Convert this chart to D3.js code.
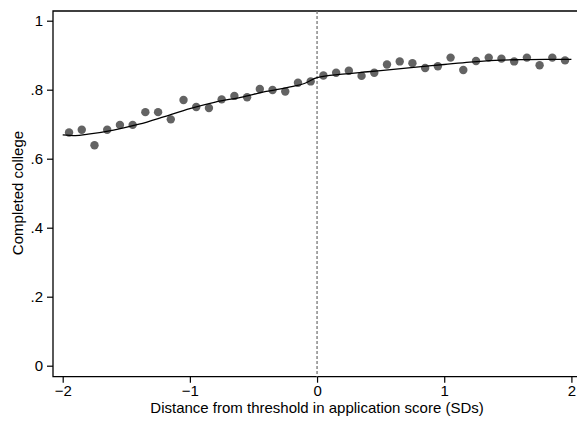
<!DOCTYPE html>
<html>
<head>
<meta charset="utf-8">
<script src="https://cdn.jsdelivr.net/npm/d3@7"></script>
<style>
  body { margin: 0; background: #fff; overflow: hidden; }
  text { font-family: "Liberation Sans", Arial, sans-serif; }
</style>
</head>
<body>
<div id="vis-container"></div>
<script>
// binned means (x = bin centre, y = share completed college)
const binX = [-1.95, -1.85, -1.75, -1.65, -1.55, -1.45, -1.35, -1.25, -1.15, -1.05,
              -0.95, -0.85, -0.75, -0.65, -0.55, -0.45, -0.35, -0.25, -0.15, -0.05,
               0.05,  0.15,  0.25,  0.35,  0.45,  0.55,  0.65,  0.75,  0.85,  0.95,
               1.05,  1.15,  1.25,  1.35,  1.45,  1.55,  1.65,  1.75,  1.85,  1.95];
const binY = [0.676, 0.684, 0.639, 0.684, 0.698, 0.698, 0.735, 0.735, 0.714, 0.770,
              0.750, 0.747, 0.772, 0.782, 0.778, 0.802, 0.799, 0.795, 0.820, 0.824,
              0.841, 0.849, 0.855, 0.840, 0.849, 0.873, 0.882, 0.877, 0.863, 0.868,
              0.893, 0.857, 0.883, 0.893, 0.890, 0.882, 0.893, 0.871, 0.893, 0.885];

// fitted curve
const fitX = [-2.0, -1.9, -1.8, -1.6, -1.4, -1.2, -1.0, -0.8, -0.6, -0.4, -0.2, -0.1, 0.0,
               0.2, 0.4, 0.6, 0.8, 1.0, 1.2, 1.4, 1.6, 1.8, 2.0];
const fitY = [0.669, 0.667, 0.671, 0.683, 0.700, 0.722, 0.745, 0.764, 0.778, 0.795, 0.809, 0.818, 0.835,
              0.845, 0.852, 0.859, 0.866, 0.873, 0.880, 0.885, 0.887, 0.888, 0.888];

const xTicks = [-2, -1, 0, 1, 2];
const yTicks = [0, 0.2, 0.4, 0.6, 0.8, 1];
const yTickLabels = ["0", ".2", ".4", ".6", ".8", "1"];

const w = 577, h = 421;
const padLeft = 53, padTop = 11, axisY = 376.7;

const xScale = d3.scaleLinear().domain([-2, 2]).range([62.7, 571.4]);
const yScale = d3.scaleLinear().domain([0, 1]).range([365.7, 20.7]);

const svg = d3.select("#vis-container").append("svg")
    .attr("width", w).attr("height", h)
    .style("display", "block");

// frame: left, bottom, top
svg.append("path")
    .attr("d", `M${w},${padTop}H${padLeft}V${axisY}H${w}`)
    .attr("fill", "none").attr("stroke", "#000").attr("stroke-width", 1.3);

// y axis
const yAxis = d3.axisLeft(yScale).tickValues(yTicks)
    .tickFormat((d, i) => yTickLabels[i]).tickSize(6).tickPadding(4);
svg.append("g").attr("transform", `translate(${padLeft},0)`).call(yAxis)
    .call(g => g.select(".domain").remove())
    .call(g => g.selectAll("line").attr("stroke", "#000").attr("stroke-width", 1.2))
    .call(g => g.selectAll("text").attr("font-size", 15).attr("fill", "#000")
        .attr("font-family", "Liberation Sans, Arial, sans-serif"));

// x axis
const xAxis = d3.axisBottom(xScale).tickValues(xTicks)
    .tickFormat(d3.format("d")).tickSize(6).tickPadding(3);
svg.append("g").attr("transform", `translate(0,${axisY})`).call(xAxis)
    .call(g => g.select(".domain").remove())
    .call(g => g.selectAll("line").attr("stroke", "#000").attr("stroke-width", 1.2))
    .call(g => g.selectAll("text").attr("font-size", 15).attr("fill", "#000")
        .attr("font-family", "Liberation Sans, Arial, sans-serif"));

// axis titles
svg.append("text")
    .attr("x", (62.7 + 571.4) / 2).attr("y", 413)
    .attr("text-anchor", "middle").attr("font-size", 15)
    .text("Distance from threshold in application score (SDs)");

svg.append("text")
    .attr("transform", "translate(23,193) rotate(-90)")
    .attr("text-anchor", "middle").attr("font-size", 15)
    .text("Completed college");

// threshold line
svg.append("line")
    .attr("x1", xScale(0)).attr("x2", xScale(0))
    .attr("y1", padTop).attr("y2", axisY)
    .attr("stroke", "#777").attr("stroke-width", 1.3)
    .attr("stroke-dasharray", "3,2");

// dots
svg.selectAll(".dot")
    .data(binX.map((x, i) => [x, binY[i]]))
    .enter().append("circle")
    .attr("class", "dot")
    .attr("r", 4.2)
    .attr("cx", d => xScale(d[0]))
    .attr("cy", d => yScale(d[1]))
    .attr("fill", "#636363");

// fitted line
const line = d3.line()
    .x(d => xScale(d[0]))
    .y(d => yScale(d[1]))
    .curve(d3.curveMonotoneX);
svg.append("path")
    .datum(fitX.map((x, i) => [x, fitY[i]]))
    .attr("d", line)
    .attr("fill", "none").attr("stroke", "#000").attr("stroke-width", 1.3);
</script>
</body>
</html>
